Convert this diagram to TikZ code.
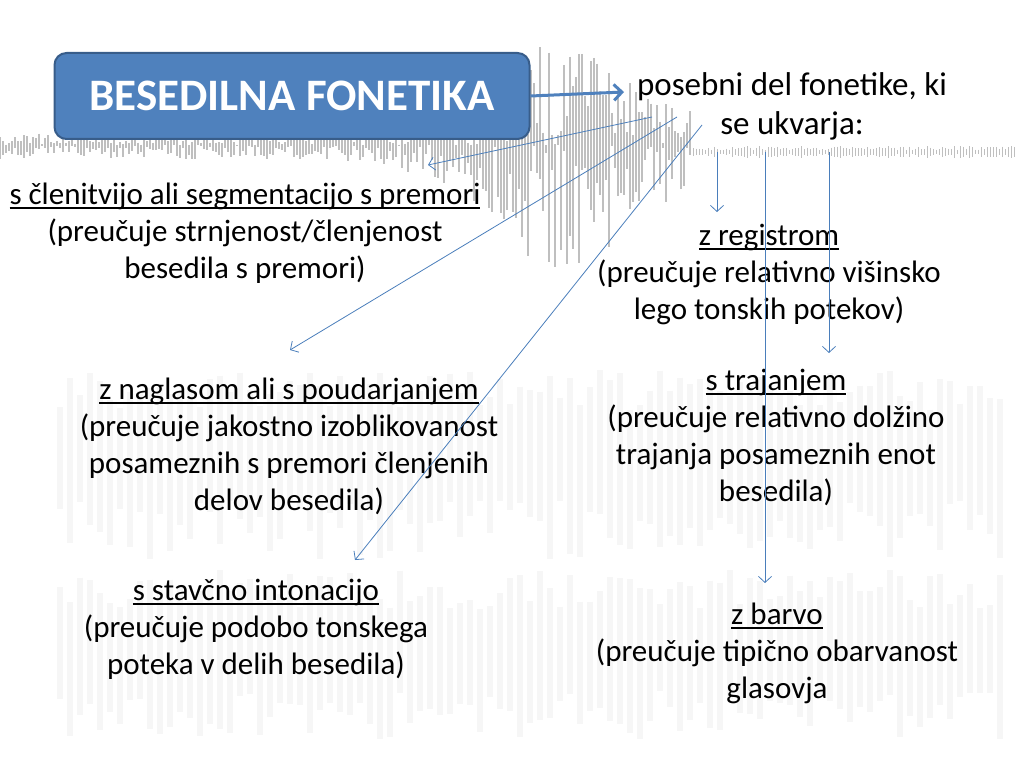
\documentclass[tikz,border=0pt]{standalone}
\usepackage{fontspec}
\setmainfont{Carlito}
\usetikzlibrary{calc,arrows.meta}
\definecolor{modra}{RGB}{79,129,189}
\definecolor{modrarob}{RGB}{56,93,138}
\definecolor{puscica}{RGB}{74,126,187}
\newcommand{\podcrtano}[1]{\leavevmode\setbox0\hbox{#1}\rlap{\rule[-5pt]{\wd0}{1.8pt}}\box0}
\tikzstyle{naslov} = [rectangle, rounded corners=12pt, draw=modrarob, line width=2pt, fill=modra, minimum height=86pt, minimum width=475pt, text=white, font=\fontsize{45}{50}\selectfont\bfseries]
\tikzstyle{besedilo} = [align=center, inner sep=0pt, font=\fontsize{31}{37}\selectfont]
\tikzstyle{tanka} = [-{Straight Barb[length=6pt,width=13pt]}, draw=puscica, line width=0.8pt]
\tikzstyle{debela} = [-{Straight Barb[length=8pt,width=16pt]}, draw=modra, line width=3pt]

\begin{document}
\begin{tikzpicture}[x=1pt, y=-1pt]
                \useasboundingbox (0,0) rectangle (1015,757);
                % ozadje: valovna oblika in spektrogram
                \pgfmathsetseed{11}
                \foreach \x in {0,3,...,690} {
                    \pgfmathsetmacro\e{12+90*exp(-((\x-560)/110)^2)}
                    \pgfmathsetmacro\a{145-\e*rnd}
                    \pgfmathsetmacro\b{145+1.2*\e*rnd}
                    \draw[gray!50, line width=1.2pt] (\x,\a) -- (\x,\b);
                }
                \foreach \x in {690,693,...,1015} {
                    \pgfmathsetmacro\e{2+4*rnd}
                    \draw[gray!50, line width=1pt] (\x,152-\e) -- (\x,152+\e);
                }
                \foreach \x in {60,70,...,1000} {
                    \pgfmathsetmacro\a{370+40*rnd}
                    \pgfmathsetmacro\b{500+60*rnd}
                    \draw[gray, opacity=0.07, line width=6pt] (\x,\a) -- (\x,\b);
                    \pgfmathsetmacro\c{570+40*rnd}
                    \pgfmathsetmacro\d{690+50*rnd}
                    \draw[gray, opacity=0.07, line width=6pt] (\x,\c) -- (\x,\d);
                }

                \node [naslov] (fonetika) at (292,96) {BESEDILNA FONETIKA};
                \node [besedilo, font=\fontsize{33}{39}\selectfont] (opis) at (792,106) {posebni del fonetike, ki\\se ukvarja:};

                \node [besedilo] (clenitev) at (245,233) {\podcrtano{s členitvijo ali segmentacijo s premori}\\(preučuje strnjenost/členjenost\\besedila s premori)};
                \node [besedilo] (register) at (769,274) {\podcrtano{z registrom}\\(preučuje relativno višinsko\\lego tonskih potekov)};
                \node [besedilo] (trajanje) at (776,437) {\podcrtano{s trajanjem}\\(preučuje relativno dolžino\\trajanja posameznih enot\\besedila)};
                \node [besedilo] (naglas) at (289,446) {\podcrtano{z naglasom ali s poudarjanjem}\\(preučuje jakostno izoblikovanost\\posameznih s premori členjenih\\delov besedila)};
                \node [besedilo] (intonacija) at (256,629) {\podcrtano{s stavčno intonacijo}\\(preučuje podobo tonskega\\poteka v delih besedila)};
                \node [besedilo] (barva) at (777,653) {\podcrtano{z barvo}\\(preučuje tipično obarvanost\\glasovja};

                % zacetki in konci puscic
                \coordinate (z0) at (624,92);
                \coordinate (z1) at (652,117);
                \coordinate (z2) at (677,117);
                \coordinate (z3) at (702,125);
                \coordinate (k1) at (428,165);
                \coordinate (k2) at (290,350);
                \coordinate (k3) at (355,560);

                \draw [debela] (fonetika.east) -- (z0);
                \draw [tanka] (z1) -- (k1);
                \draw [tanka] (z2) -- (k2);
                \draw [tanka] (z3) -- (k3);
                \draw [tanka] (717,152) -- (717,212);
                \draw [tanka] (765,152) -- (765,583);
                \draw [tanka] (829,152) -- (829,353);
            \end{tikzpicture}
\end{document}
